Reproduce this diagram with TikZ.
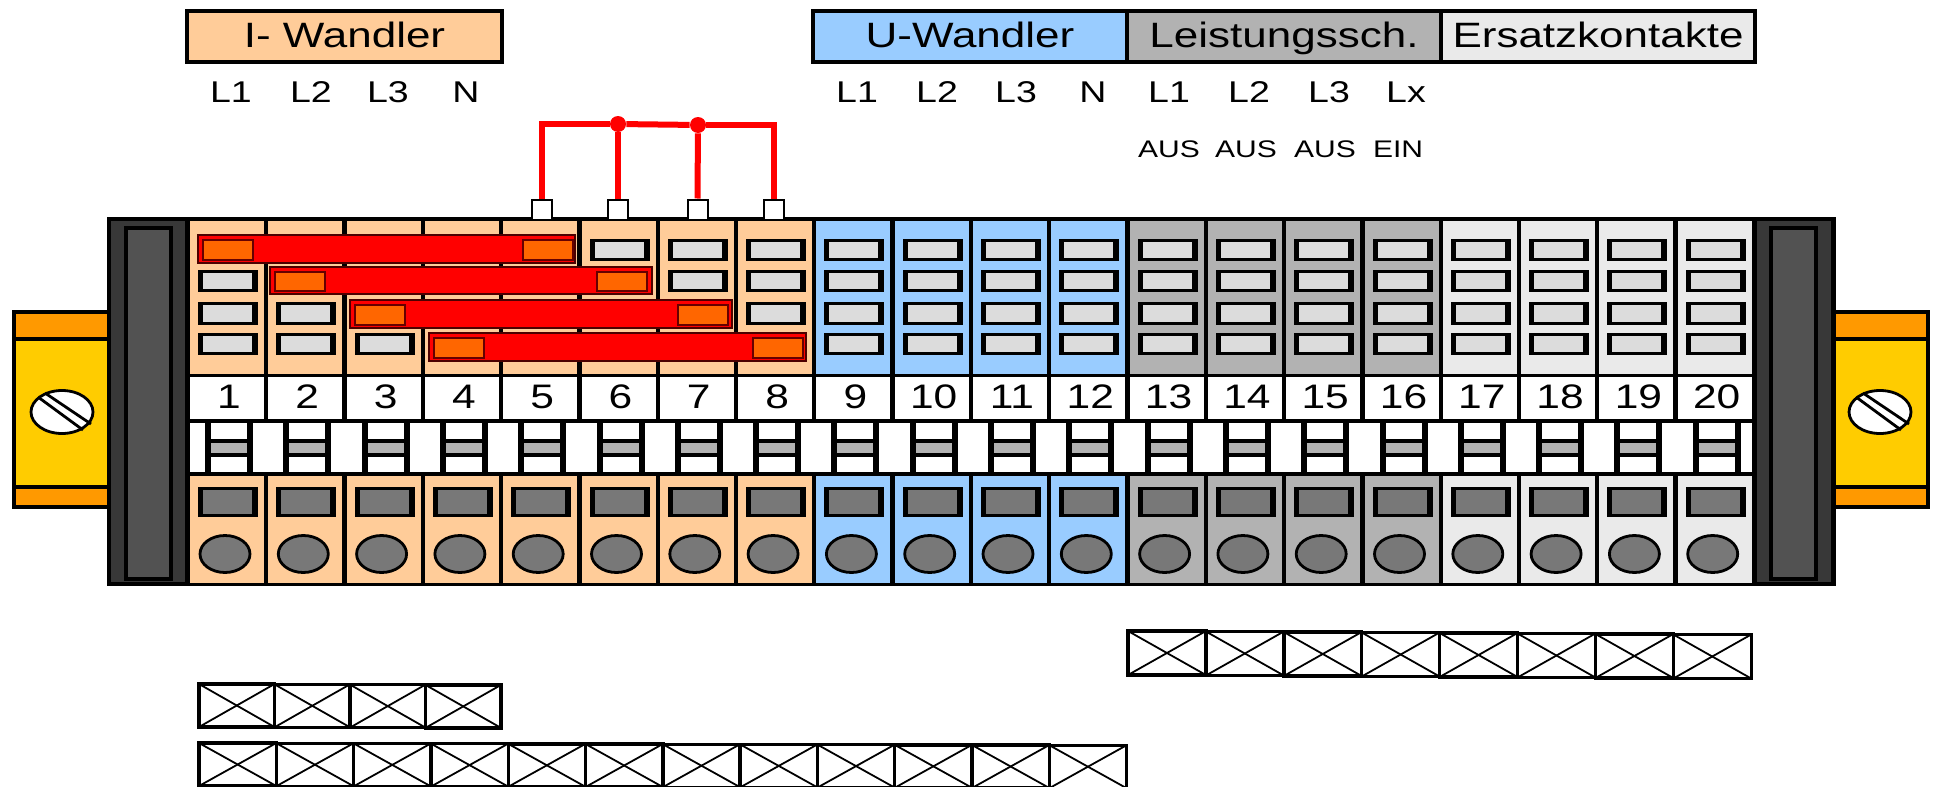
\documentclass[tikz,border=0pt]{standalone}
\usepackage{fontspec}
\setmainfont[FakeStretch=1.25]{Liberation Sans}
\definecolor{wandI}{HTML}{FFCC99}
\definecolor{wandU}{HTML}{99CCFF}
\definecolor{schalt}{HTML}{B2B2B2}
\definecolor{ersatz}{HTML}{EAEAEA}
\definecolor{slotlight}{HTML}{DCDCDC}
\definecolor{slotdark}{HTML}{787878}
\definecolor{railorange}{HTML}{FF9900}
\definecolor{railyellow}{HTML}{FFCC00}
\definecolor{bardark}{HTML}{FF6600}
\tikzset{
    headbox/.style={draw=black, line width=1.8pt, minimum height=25.5pt, inner sep=0pt, text height=12.5pt, text depth=2pt, font=\fontsize{17.6}{20}\selectfont},
    phase/.style={inner sep=0pt, font=\fontsize{15}{18}\selectfont},
    state/.style={inner sep=0pt, font=\fontsize{12}{14}\selectfont},
    number/.style={inner sep=0pt, font=\fontsize{17}{20}\selectfont},
    redbar/.style={draw=black!70!red, fill=red, line width=1pt},
    orangebox/.style={draw=black!60!red, fill=bardark, line width=1.2pt},
    pinbox/.style={draw=black, fill=white, line width=1pt, minimum size=10pt, inner sep=0pt},
    joint/.style={circle, fill=red, minimum size=8pt, inner sep=0pt},
    redwire/.style={draw=red, line width=3pt},
    crossbox/.style={draw=black, line width=1.7pt},
    crossline/.style={draw=black, line width=0.9pt}
}
\begin{document}
\begin{tikzpicture}[x=0.5pt,y=-0.5pt]
        \useasboundingbox (0,0) rectangle (1933,787);
        \node[headbox, fill=wandI, minimum width=157.5pt] (headI) at (344.5,36.5) {I- Wandler};
        \node[headbox, fill=wandU, minimum width=157pt] (headU) at (970,36.5) {U-Wandler};
        \node[headbox, fill=schalt, minimum width=157pt] (headL) at (1284,36.5) {Leistungssch.};
        \node[headbox, fill=ersatz, minimum width=157pt] (headE) at (1598,36.5) {Ersatzkontakte};
        \foreach \x/\t [count=\k] in {231/L1,311/L2,388/L3,466/N,857/L1,937/L2,1016/L3,1093/N,1169/L1,1249/L2,1329/L3,1406/Lx}
            \node[phase] (phase\k) at (\x,92) {\t};
        \foreach \x/\t [count=\k] in {1169/AUS,1246/AUS,1325/AUS,1398/EIN}
            \node[state] (state\k) at (\x,149) {\t};
        \foreach \ra/\rb in {14/110,1928/1830} {
            \draw[black, fill=railyellow, line width=2pt] (\ra,312) rectangle (\rb,507);
            \draw[black, fill=railorange, line width=2pt] (\ra,312) rectangle (\rb,339);
            \draw[black, fill=railorange, line width=2pt] (\ra,487) rectangle (\rb,507);
        }
        \foreach \sx in {62,1880} {
            \draw[black, fill=white, line width=1.4pt] (\sx,412) ellipse (31 and 21.5);
            \draw[black, line width=1.4pt] ({\sx-24},397) -- ({\sx+21},430);
            \draw[black, line width=1.4pt] ({\sx-17},393) -- ({\sx+29},424);
        }
        \fill[black] (107,217) rectangle (1836,586);
        \foreach \ex/\ia/\ib in {111/126/171,1757/1771/1816} {
            \fill[black!78] (\ex,221) rectangle ({\ex+74},582);
            \draw[black, fill=black!68, line width=2pt] (\ia,228) rectangle (\ib,579);
        }
        \fill[white] (190,423) rectangle (1752,472);
        \foreach \first/\last/\col in {1/8/wandI,9/12/wandU,13/16/schalt,17/20/ersatz}
            \foreach \i in {\first,...,\last} {
                \pgfmathsetmacro\cellx{228+78.3*(\i-1)}
                \fill[\col] ({\cellx-38},221) rectangle ({\cellx+36},374);
                \fill[\col] ({\cellx-38},476) rectangle ({\cellx+36},583);
                \fill[white] ({\cellx-38},377) rectangle ({\cellx+36},419);
                \node[number] (num\i) at ({\cellx+1},397) {\i};
                \foreach \ya/\yb in {239/261,270/292,302/325,333/355} {
                    \fill[black] ({\cellx-30},\ya) rectangle ({\cellx+30},\yb);
                    \fill[slotlight] ({\cellx-25},{\ya+3}) rectangle ({\cellx+24},{\yb-3});
                }
                \fill[black] ({\cellx-23},423) rectangle ({\cellx+25},472);
                \fill[white] ({\cellx-17},423) rectangle ({\cellx+19},439);
                \fill[schalt] ({\cellx-17},443) rectangle ({\cellx+19},453);
                \fill[white] ({\cellx-17},457) rectangle ({\cellx+19},472);
                \fill[black] ({\cellx-30},487) rectangle ({\cellx+30},517);
                \fill[slotdark] ({\cellx-25},490) rectangle ({\cellx+24},514);
                \draw[black, fill=slotdark, line width=1.4pt] ({\cellx-3},554) ellipse (25 and 18.5);
            }
        \foreach \xa/\xb/\ya/\yb/\oa/\ob in {198/575/235/263/203/523,270/652/267/294/275/597,350/732/300/328/355/678,429/806/333/361/434/753} {
            \draw[redbar] (\xa,\ya) rectangle (\xb,\yb);
            \draw[orangebox] (\oa,{\ya+5}) rectangle ({\oa+50},{\yb-3});
            \draw[orangebox] (\ob,{\ya+5}) rectangle ({\ob+50},{\yb-3});
        }
        \node[pinbox] (pinA) at (541.5,209.5) {};
        \node[pinbox] (pinB) at (618,209.5) {};
        \node[pinbox] (pinC) at (697.5,209.5) {};
        \node[pinbox] (pinD) at (773.5,209.5) {};
        \node[joint] (jointA) at (618,124) {};
        \node[joint] (jointB) at (698,125) {};
        \draw[redwire] (pinA.north) |- (jointA);
        \draw[redwire] (jointA) -- (jointB);
        \draw[redwire] (pinD.north) |- (jointB);
        \draw[redwire] (jointA) -- (pinB.north);
        \draw[redwire] (jointB) -- (pinC.north);
        \foreach \rowx/\rowy/\last/\wid/\rise/\hei in {199/684/3/75.5/0.3/43,199/743/11/77.3/0.2/43,1128/631/7/77.9/0.5/44}
            \foreach \i in {0,...,\last} {
                \draw[crossbox] ({\rowx+\i*\wid},{\rowy+\i*\rise}) rectangle ({\rowx+(\i+1)*\wid},{\rowy+\i*\rise+\hei});
                \draw[crossline] ({\rowx+\i*\wid},{\rowy+\i*\rise}) -- ({\rowx+(\i+1)*\wid},{\rowy+\i*\rise+\hei});
                \draw[crossline] ({\rowx+\i*\wid},{\rowy+\i*\rise+\hei}) -- ({\rowx+(\i+1)*\wid},{\rowy+\i*\rise});
            }
    \end{tikzpicture}
\end{document}
